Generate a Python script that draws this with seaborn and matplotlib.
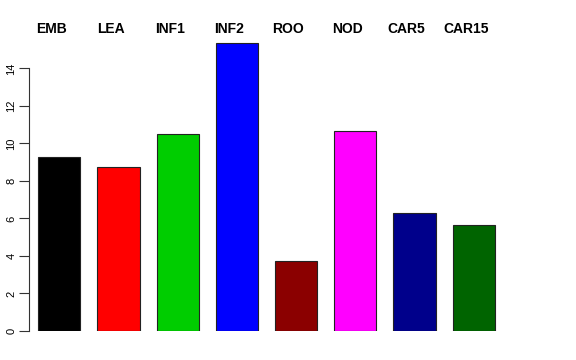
import matplotlib
matplotlib.use("Agg")
import matplotlib.pyplot as plt
import seaborn as sns
import pandas as pd

# stages and their values
stages = ["EMB", "LEA", "INF1", "INF2", "ROO", "NOD", "CAR5", "CAR15"]
values = [9.27, 8.74, 10.5, 15.37, 3.73, 10.68, 6.31, 5.63]
bar_colors = ["#000000", "#FF0000", "#00CD00", "#0000FF",
              "#8B0000", "#FF00FF", "#00008B", "#006400"]
yticks = [0, 2, 4, 6, 8, 10, 12, 14]

sns.set_style("white")
plt.rcParams['font.family'] = ['Liberation Sans', 'DejaVu Sans']
plt.rcParams['text.color'] = 'black'
plt.rcParams['ytick.color'] = 'black'

df = pd.DataFrame({"stage": stages, "value": values})

fig = plt.figure(figsize=(5.76, 3.6), dpi=100)
# axes in pixels: x 29..547, y 0 at 331 px, top at 331-16*18.76
W, H = 576, 360
px_unit = 18.76
top_px = 331 - 16 * px_unit
ax = fig.add_axes([29 / W, (H - 331) / H, (547 - 29) / W, (331 - top_px) / H])

sns.barplot(data=df, x="stage", y="value", hue="stage", palette=bar_colors,
            width=0.71, edgecolor="#222222", linewidth=0.8, legend=False,
            saturation=1, ax=ax)

ax.set_xlim((29 - 59.3) / 59.2, (547 - 59.3) / 59.2)
ax.set_ylim(0, 16)

for s in ["top", "right", "bottom"]:
    ax.spines[s].set_visible(False)
ax.spines["left"].set_bounds(0, 14)
ax.spines["left"].set_color("#333333")
ax.spines["left"].set_linewidth(0.8)

ax.set_xticks([])
ax.set_yticks(yticks)
ax.set_yticklabels([str(t) for t in yticks], rotation=90, va="center", fontsize=8)
ax.tick_params(axis="y", length=7, width=0.8, color="#333333", pad=2, left=True,
               labelcolor="black")
ax.set_xlabel("")
ax.set_ylabel("")

label_y = (331 - 29.3) / px_unit
for i, name in enumerate(stages):
    ax.text(i - 8 / 59.2, label_y, name, ha="center", va="center", color="black",
            fontsize=10, fontweight="bold", clip_on=False)

fig.savefig("out.png", dpi=100)
